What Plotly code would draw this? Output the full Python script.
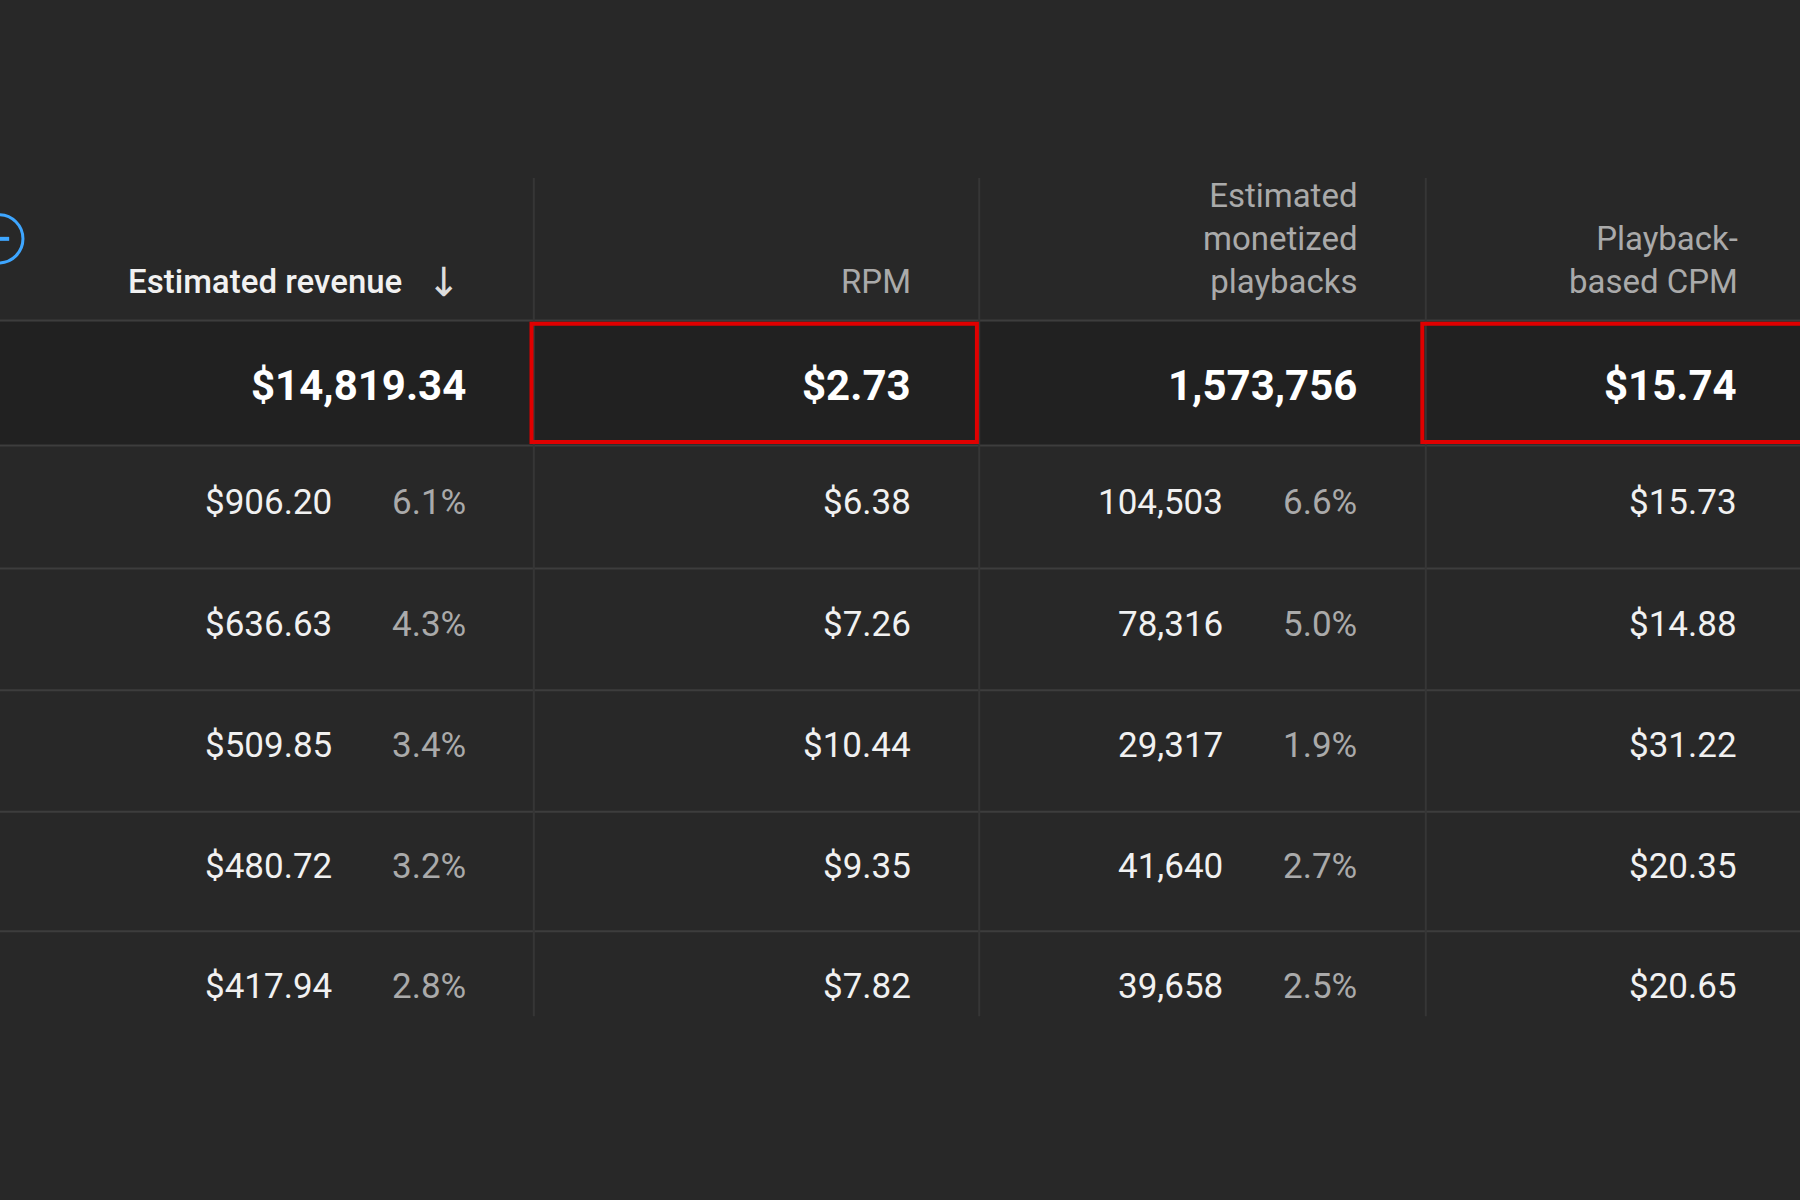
import plotly.graph_objects as go

headers = ["Estimated revenue", "RPM", "Estimated<br>monetized<br>playbacks", "Playback-<br>based CPM"]
total_revenue = "$14,819.34"
total_rpm = "$2.73"
total_playbacks = "1,573,756"
total_cpm = "$15.74"
revenue = ["$906.20", "$636.63", "$509.85", "$480.72", "$417.94"]
revenue_pct = ["6.1%", "4.3%", "3.4%", "3.2%", "2.8%"]
rpm = ["$6.38", "$7.26", "$10.44", "$9.35", "$7.82"]
playbacks = ["104,503", "78,316", "29,317", "41,640", "39,658"]
playbacks_pct = ["6.6%", "5.0%", "1.9%", "2.7%", "2.5%"]
cpm = ["$15.73", "$14.88", "$31.22", "$20.35", "$20.65"]

W, H = 1568, 1045
BG = "#282828"
FONT = "Roboto"
fig = go.Figure()
fig.add_trace(go.Scatter(x=[0, W], y=[0, H], mode="markers", marker=dict(opacity=0), hoverinfo="skip", showlegend=False))

shapes = []
ann = []
shapes.append(dict(type="rect", x0=0, x1=W, y0=280, y1=388, fillcolor="#212121", line_width=0, layer="below"))
for y in [279, 388, 495, 601, 707, 811]:
    shapes.append(dict(type="line", x0=0, x1=W, y0=y, y1=y, line=dict(color="#3d3d3d", width=2)))
for x in [465, 853, 1242]:
    shapes.append(dict(type="line", x0=x, x1=x, y0=155, y1=885, line=dict(color="#363636", width=2)))
shapes.append(dict(type="rect", x0=463, x1=851, y0=282, y1=385, line=dict(color="#e00000", width=4)))
shapes.append(dict(type="rect", x0=1239, x1=1570, y0=282, y1=385, line=dict(color="#e00000", width=4)))
shapes.append(dict(type="circle", x0=-22, x1=20, y0=187, y1=229, line=dict(color="#3ea6ff", width=3)))
shapes.append(dict(type="line", x0=-5, x1=8, y0=208, y1=208, line=dict(color="#3ea6ff", width=4)))

def txt(x, y, t, size, color, bold=False, yanchor="middle", family=FONT):
    ann.append(dict(x=x, y=y, xref="x", yref="y", text=("<b>%s</b>" % t) if bold else t, showarrow=False,
                    xanchor="right", yanchor=yanchor, align="right",
                    font=dict(family=family, size=size, color=color)))

txt(352, 245, headers[0], 33, "#f1f1f1", family="Roboto Medium, Roboto")
txt(403, 246, "↓", 40, "#dddddd", family="DejaVu Sans")
txt(795, 245, headers[1], 33, "#aaaaaa")
txt(1185, 264, headers[2], 33, "#aaaaaa", yanchor="bottom")
txt(1516, 264, headers[3], 33, "#aaaaaa", yanchor="bottom")
for x, t in [(408, total_revenue), (795, total_rpm), (1184, total_playbacks), (1515, total_cpm)]:
    txt(x, 336, t, 42, "#ffffff", bold=True)
row_y = [438, 544, 649, 755, 859]
for i, y in enumerate(row_y):
    txt(291, y, revenue[i], 35, "#f1f1f1")
    txt(408, y, revenue_pct[i], 35, "#aaaaaa")
    txt(795, y, rpm[i], 35, "#f1f1f1")
    txt(1067, y, playbacks[i], 35, "#f1f1f1")
    txt(1184, y, playbacks_pct[i], 35, "#aaaaaa")
    txt(1515, y, cpm[i], 35, "#f1f1f1")

fig.update_layout(width=1800, height=1200, margin=dict(l=0, r=0, t=0, b=0),
                  paper_bgcolor=BG, plot_bgcolor=BG, shapes=shapes, annotations=ann,
                  xaxis=dict(range=[0, W], visible=False, fixedrange=True),
                  yaxis=dict(range=[H, 0], visible=False, fixedrange=True))
fig.write_html("out.html", config={"displayModeBar": False},
               post_script="document.body.style.margin='0';document.body.style.background='#282828';")
